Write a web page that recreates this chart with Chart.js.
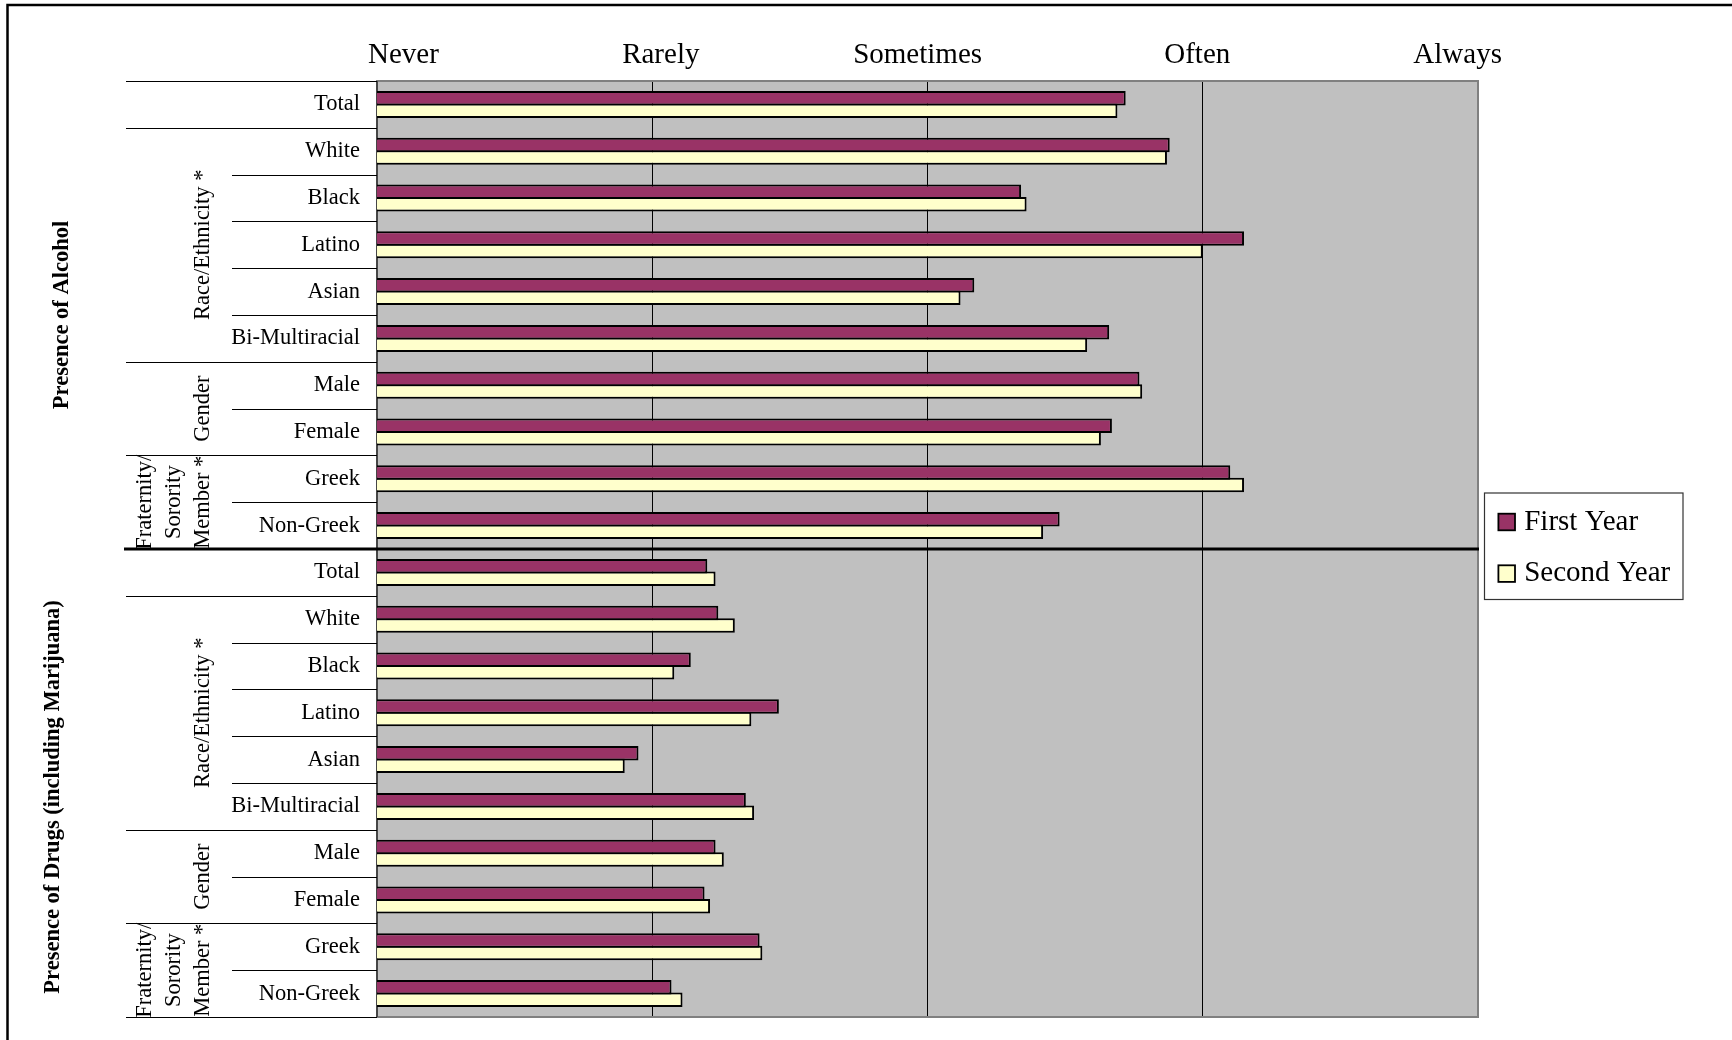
<!DOCTYPE html>
<html>
<head>
<meta charset="utf-8">
<title>Presence of Alcohol and Drugs</title>
<script src="https://cdn.jsdelivr.net/npm/chart.js@4/dist/chart.umd.min.js"></script>
<style>
  html, body { margin: 0; padding: 0; background: #ffffff; }
  canvas { display: block; }
</style>
</head>
<body>
<canvas id="chart" width="1732" height="1040"></canvas>
<script>
// Response scale and row structure
const scaleLabels = ['Never', 'Rarely', 'Sometimes', 'Often', 'Always'];
const rowLabels = ['Total', 'White', 'Black', 'Latino', 'Asian', 'Bi-Multiracial', 'Male', 'Female', 'Greek', 'Non-Greek'];
const groupLabels = [[], ['Race/Ethnicity *'], ['Gender'], ['Fraternity/', 'Sorority', 'Member *']];
const groupSizes = [1, 5, 2, 2];
const sectionLabels = ['Presence of Alcohol', 'Presence of Drugs (including Marijuana)'];
const seriesLabels = ['First Year', 'Second Year'];

// Mean ratings (1 = Never ... 5 = Always)
const firstYearAlcohol  = [3.72, 3.88, 3.34, 4.15, 3.17, 3.66, 3.77, 3.67, 4.10, 3.48];
const secondYearAlcohol = [3.69, 3.87, 3.36, 4.00, 3.12, 3.58, 3.78, 3.63, 4.15, 3.42];
const firstYearDrugs    = [2.20, 2.24, 2.14, 2.46, 1.95, 2.34, 2.23, 2.19, 2.39, 2.07];
const secondYearDrugs   = [2.23, 2.30, 2.08, 2.36, 1.90, 2.37, 2.26, 2.21, 2.40, 2.11];

// Layout and style
const SERIF = '"Liberation Serif", "Times New Roman", Times, serif';
const W = 1732, H = 1040;
const PLOT = { left: 377, top: 81, right: 1478, bottom: 1017 };
const COLORS = { first: '#993366', second: '#FFFFCC', plot: '#C0C0C0', plotBorder: '#808080' };
// Where each response heading sits along the rating scale
const HEADING_ANCHORS = [1.096, 2.031, 2.964, 3.98, 4.926];
const OUTER_LINE_X = 126;      // start of group divider lines
const INNER_LINE_X = 232;      // start of row divider lines
const SEPARATOR_X = 124;       // start of the section divider
const GROUP_TEXT_X = 203;      // last text column of group labels
const GROUP_LINE_STEP = 29;
const SECTION_TEXT_X = [62, 53];
const SECTION_TEXT_DY = [0, 14];

const allLabels = rowLabels.concat(rowLabels);

function rowBoundary(yScale, area, k, n) {
  if (k <= 0) return area.top;
  if (k >= n) return area.bottom;
  return (yScale.getPixelForTick(k - 1) + yScale.getPixelForTick(k)) / 2;
}

function drawRotated(ctx, lines, cx, cy, step, font) {
  ctx.save();
  ctx.font = font;
  ctx.fillStyle = '#000';
  ctx.textAlign = 'center';
  ctx.textBaseline = 'middle';
  const n = lines.length;
  lines.forEach((line, i) => {
    const x = cx - (n - 1 - i) * step;
    ctx.save();
    ctx.translate(x, cy);
    ctx.rotate(-Math.PI / 2);
    ctx.fillText(line, 0, 0);
    ctx.restore();
  });
  ctx.restore();
}

function noEdgePadding(s) {
  s.paddingTop = 0;
  s.paddingBottom = 0;
  s.paddingLeft = 0;
  s.paddingRight = 0;
}

const decorPlugin = {
  id: 'decor',
  beforeDraw(chart) {
    const { ctx, chartArea: a } = chart;
    ctx.save();
    ctx.fillStyle = '#ffffff';
    ctx.fillRect(0, 0, chart.width, chart.height);
    ctx.fillStyle = COLORS.plot;
    ctx.fillRect(a.left, a.top, a.right - a.left, a.bottom - a.top);
    ctx.restore();
  },
  beforeDatasetsDraw(chart) {
    const { ctx, chartArea: a } = chart;
    ctx.save();
    ctx.strokeStyle = COLORS.plotBorder;
    ctx.lineWidth = 2;
    ctx.strokeRect(a.left, a.top, a.right - a.left, a.bottom - a.top);
    ctx.strokeStyle = '#333';
    ctx.lineWidth = 1.5;
    ctx.beginPath();
    ctx.moveTo(a.left, a.top);
    ctx.lineTo(a.left, a.bottom);
    ctx.stroke();
    ctx.restore();
  },
  afterDraw(chart) {
    const { ctx, chartArea: a } = chart;
    const y = chart.scales.y;
    const n = allLabels.length;
    const per = rowLabels.length;

    // Row and group dividers in the label table
    ctx.save();
    ctx.strokeStyle = '#000';
    ctx.lineWidth = 1.2;
    sectionLabels.forEach((_, s) => {
      const starts = [];
      let acc = 0;
      groupSizes.forEach(g => { starts.push(acc); acc += g; });
      for (let k = 0; k <= per; k++) {
        const gk = s * per + k;
        const isSectionEdge = (s === 0 && k === per) || (s === 1 && k === 0);
        if (isSectionEdge) continue;
        const outer = starts.includes(k) || k === per;
        const yy = Math.round(rowBoundary(y, a, gk, n)) + 0.5;
        ctx.beginPath();
        ctx.moveTo(outer ? OUTER_LINE_X : INNER_LINE_X, yy);
        ctx.lineTo(a.left, yy);
        ctx.stroke();
      }
    });
    // Section divider across table and plot
    const sepY = rowBoundary(y, a, per, n);
    ctx.lineWidth = 3;
    ctx.beginPath();
    ctx.moveTo(SEPARATOR_X, sepY);
    ctx.lineTo(a.right + 1, sepY);
    ctx.stroke();
    ctx.restore();

    // Group labels
    const groupFont = '22.5px ' + SERIF;
    sectionLabels.forEach((_, s) => {
      let acc = 0;
      groupSizes.forEach((size, g) => {
        const top = rowBoundary(y, a, s * per + acc, n);
        const bottom = rowBoundary(y, a, s * per + acc + size, n);
        acc += size;
        if (!groupLabels[g].length) return;
        drawRotated(ctx, groupLabels[g], GROUP_TEXT_X, (top + bottom) / 2, GROUP_LINE_STEP, groupFont);
      });
    });

    // Section labels
    const sectionFont = 'bold 22.5px ' + SERIF;
    sectionLabels.forEach((label, s) => {
      const top = rowBoundary(y, a, s * per, n);
      const bottom = rowBoundary(y, a, s * per + per, n);
      drawRotated(ctx, [label], SECTION_TEXT_X[s], (top + bottom) / 2 + SECTION_TEXT_DY[s], 0, sectionFont);
    });

    // Legend box
    const lx = a.right + 6.5, lw = 198.5, lh = 106.5;
    const ly = (a.top + a.bottom) / 2 - 56;
    ctx.save();
    ctx.fillStyle = '#fff';
    ctx.fillRect(lx, ly, lw, lh);
    ctx.strokeStyle = '#333';
    ctx.lineWidth = 1.2;
    ctx.strokeRect(lx, ly, lw, lh);
    ctx.font = '29px ' + SERIF;
    ctx.textBaseline = 'middle';
    ctx.textAlign = 'left';
    chart.data.datasets.forEach((ds, i) => {
      const cy = ly + 29 + i * 51.6;
      ctx.fillStyle = '#000';
      ctx.fillRect(lx + 13, cy - 9.2, 18.4, 18.4);
      ctx.fillStyle = ds.backgroundColor;
      ctx.fillRect(lx + 14.8, cy - 7.4, 14.8, 14.8);
      ctx.fillStyle = '#000';
      ctx.fillText(ds.label, lx + 39.7, cy);
    });
    ctx.restore();

    // Outer frame
    ctx.save();
    ctx.strokeStyle = '#000';
    ctx.lineWidth = 2.5;
    ctx.beginPath();
    ctx.moveTo(W, 5);
    ctx.lineTo(7.5, 5);
    ctx.lineTo(7.5, H);
    ctx.stroke();
    ctx.restore();
  }
};

function build() {
  const ctx = document.getElementById('chart').getContext('2d');
  const barStyle = {
    borderColor: '#000000',
    borderWidth: 2,
    borderSkipped: false,
    categoryPercentage: 0.534,
    barPercentage: 1.16
  };
  new Chart(ctx, {
    type: 'bar',
    data: {
      labels: allLabels,
      datasets: [
        Object.assign({
          label: seriesLabels[0],
          data: firstYearAlcohol.concat(firstYearDrugs),
          backgroundColor: COLORS.first
        }, barStyle),
        Object.assign({
          label: seriesLabels[1],
          data: secondYearAlcohol.concat(secondYearDrugs),
          backgroundColor: COLORS.second
        }, barStyle)
      ]
    },
    options: {
      indexAxis: 'y',
      responsive: false,
      animation: false,
      devicePixelRatio: 1,
      layout: { padding: { left: 0, top: 0, right: W - PLOT.right, bottom: H - PLOT.bottom } },
      plugins: { legend: { display: false }, tooltip: { enabled: false } },
      scales: {
        x: {
          type: 'linear',
          position: 'bottom',
          min: 1,
          max: 5,
          border: { display: false },
          ticks: { display: false, stepSize: 1 },
          grid: {
            drawTicks: false,
            lineWidth: 1,
            color: c => (c.tick && c.tick.value > 1 && c.tick.value < 5) ? '#000000' : 'rgba(0,0,0,0)'
          },
          afterFit: s => { s.height = 0; noEdgePadding(s); }
        },
        xTop: {
          type: 'linear',
          position: 'top',
          min: 1,
          max: 5,
          border: { display: false },
          grid: { display: false, drawTicks: false },
          afterBuildTicks: s => { s.ticks = HEADING_ANCHORS.map(v => ({ value: v })); },
          ticks: {
            autoSkip: false,
            maxRotation: 0,
            padding: 8,
            color: '#000',
            font: { family: SERIF, size: 29 },
            callback: (v, i) => scaleLabels[i]
          },
          afterFit: s => { s.height = PLOT.top; noEdgePadding(s); }
        },
        y: {
          type: 'category',
          position: 'left',
          border: { display: false },
          grid: { display: false, drawTicks: false },
          ticks: {
            autoSkip: false,
            padding: 17,
            color: '#000',
            font: { family: SERIF, size: 22.5 }
          },
          afterFit: s => { s.width = PLOT.left; noEdgePadding(s); }
        }
      }
    },
    plugins: [decorPlugin]
  });
}

const fontLoads = document.fonts && document.fonts.load
  ? Promise.all([
      document.fonts.load('22px "Liberation Serif"'),
      document.fonts.load('bold 22px "Liberation Serif"')
    ]).catch(() => null)
  : Promise.resolve();
fontLoads.then(build, build);
</script>
</body>
</html>
